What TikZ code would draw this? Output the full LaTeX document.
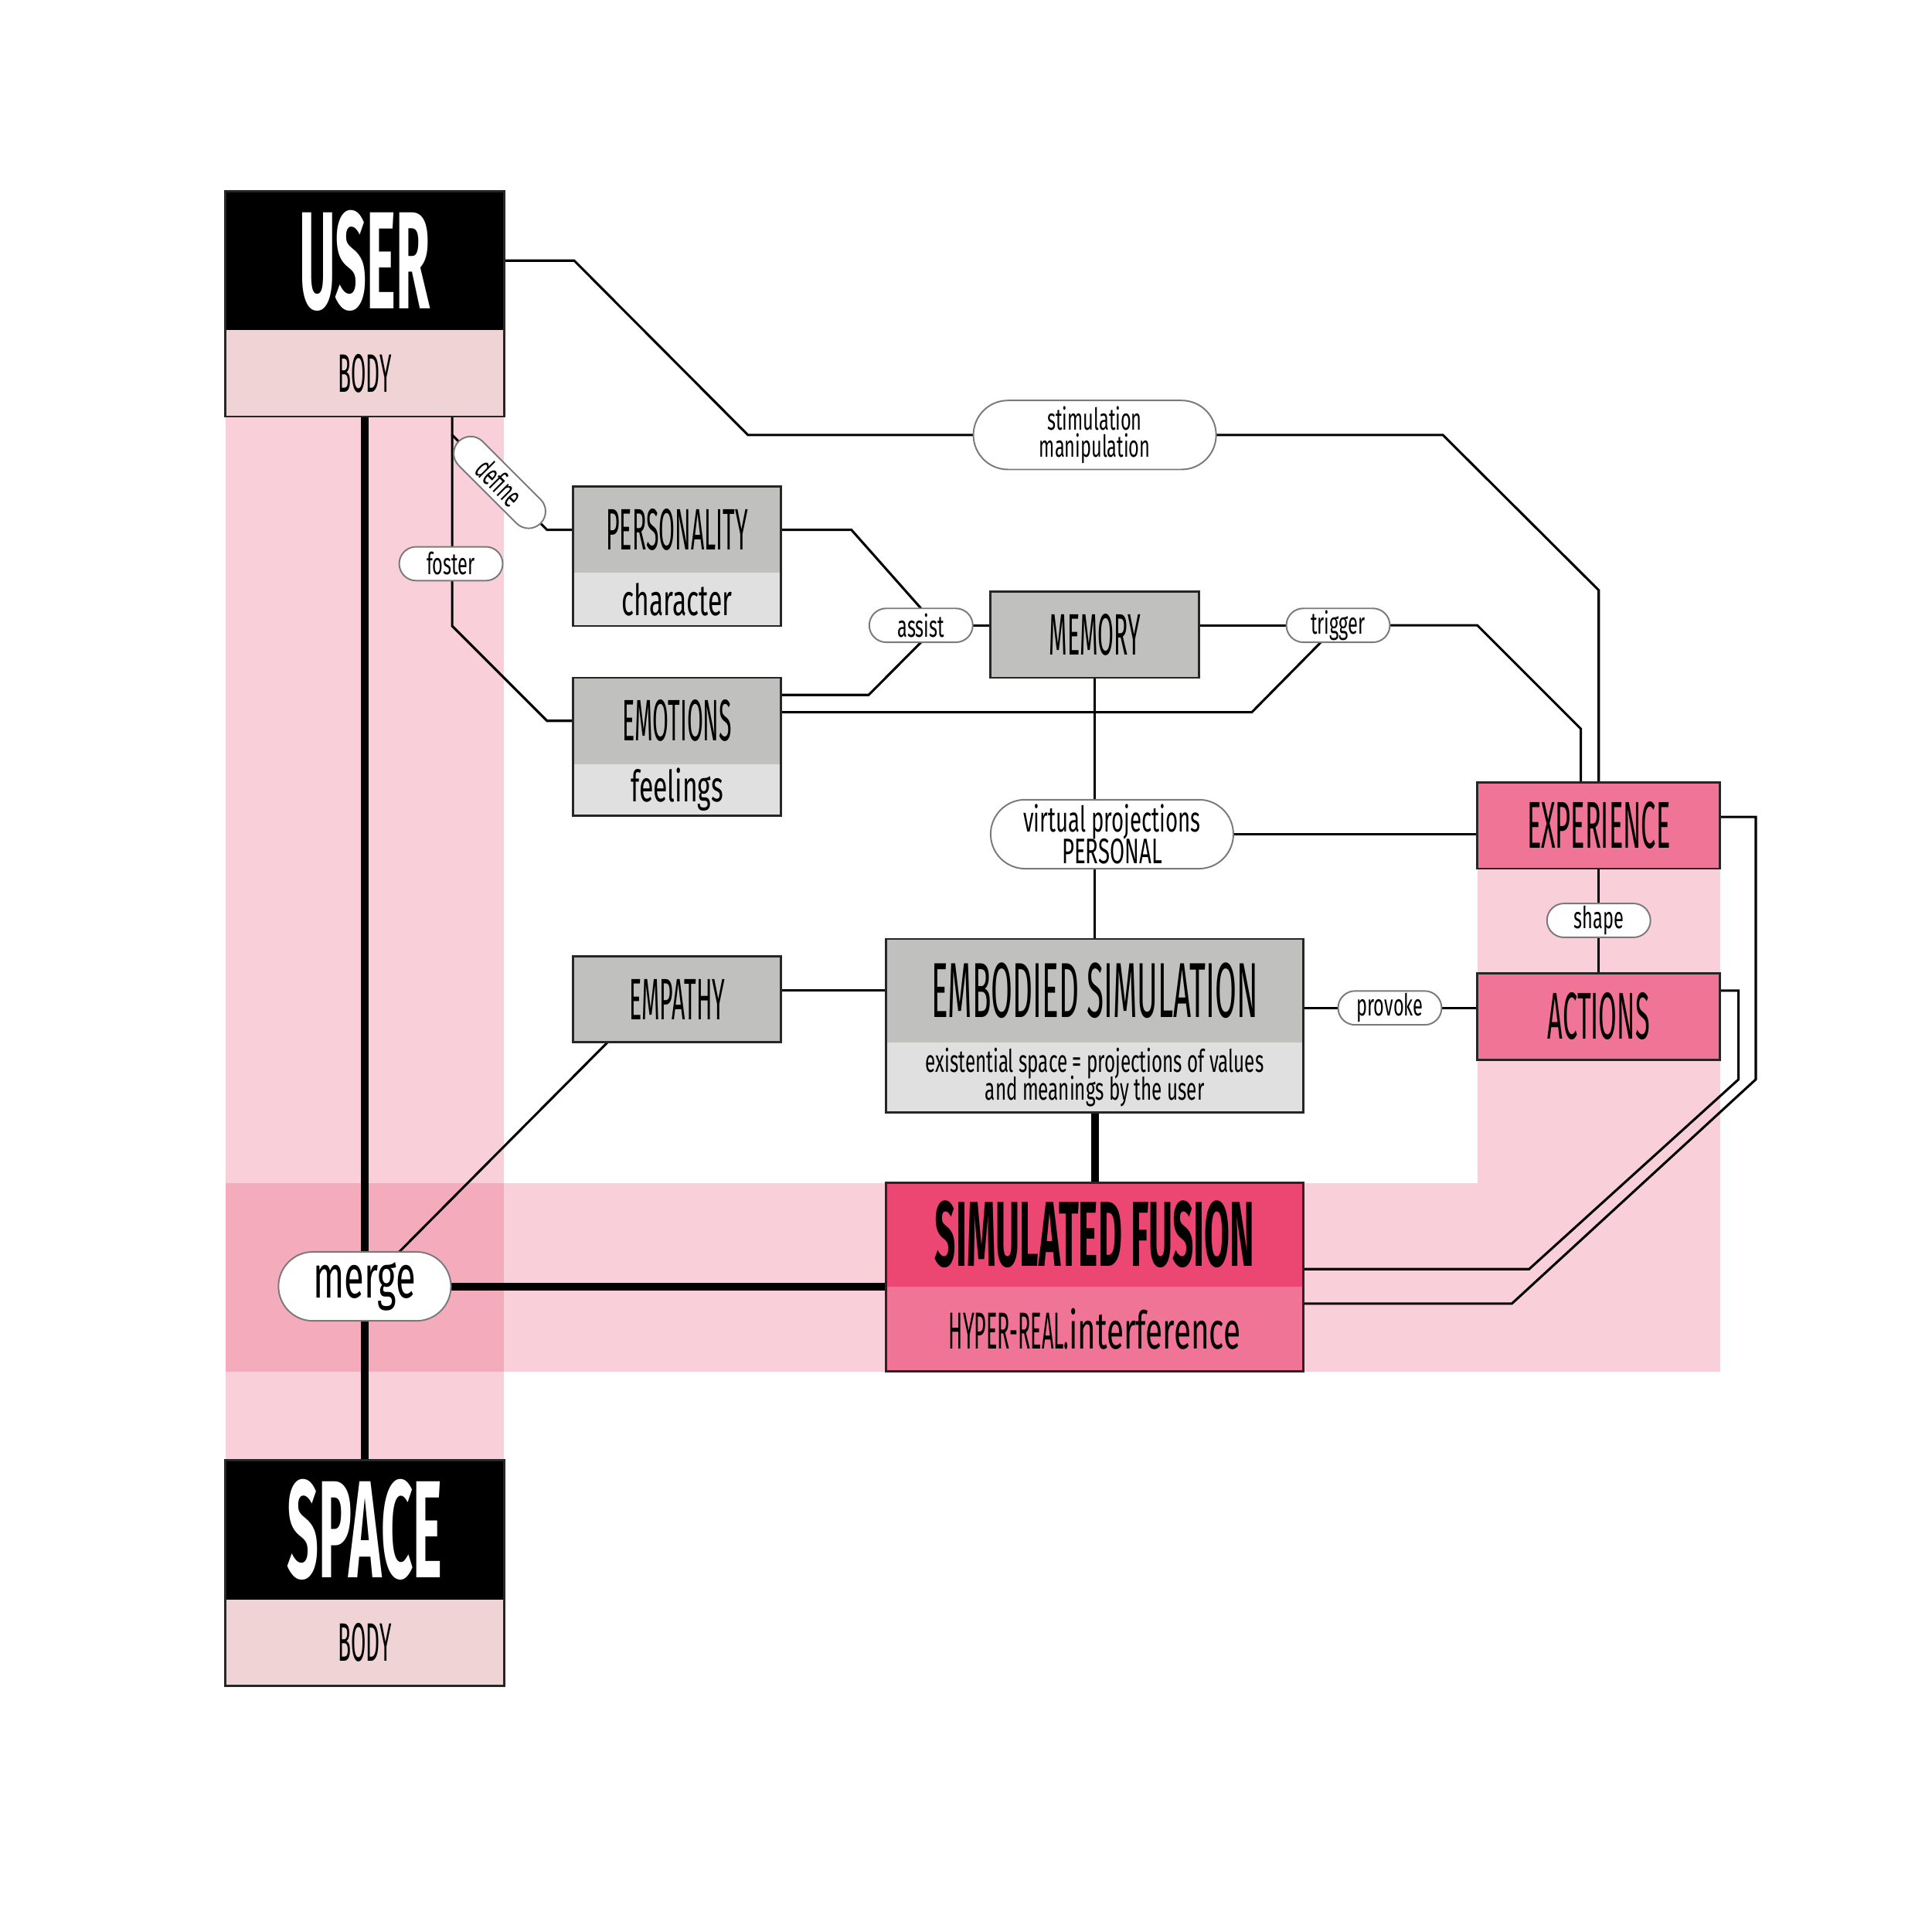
\documentclass[tikz,border=0pt]{standalone}
\usepackage{fontspec}
\usepackage{tikz}
\usetikzlibrary{positioning, calc, backgrounds, shapes.misc}
\newfontfamily\capsfont[FakeStretch=0.4]{Fira Sans}
\newfontfamily\lowfont[FakeStretch=0.6]{Fira Sans}
\newcommand{\fsz}[1]{\fontsize{#1}{#1}\selectfont}
\newcommand{\tightlines}{\lineskip=0pt\lineskiplimit=-10pt}
\definecolor{bodypink}{HTML}{EFD3D5}
\definecolor{headgray}{HTML}{C0C0BE}
\definecolor{subgray}{HTML}{E0E0E0}
\definecolor{fusionred}{HTML}{EC4672}
\definecolor{rosefill}{HTML}{F07496}
\definecolor{bandpink}{HTML}{E32351}
\definecolor{pillline}{HTML}{7A7A7A}

\tikzset{
  box/.style={inner sep=0pt, outer sep=0pt, align=center},
  userbox/.style={box, fill=black, text=white, minimum width=22.6mm, minimum height=11.3mm, font=\capsfont\bfseries\fsz{32}},
  bodybox/.style={box, fill=bodypink, minimum width=22.6mm, minimum height=7mm, font=\capsfont\fsz{12.5}},
  headbox/.style={box, fill=headgray, minimum width=16.9mm, minimum height=7mm, font=\capsfont\fsz{13.5}},
  subbox/.style={box, fill=subgray, minimum width=16.9mm, font=\lowfont\fsz{10}},
  rosebox/.style={box, fill=rosefill, draw=black!85, line width=0.5pt, minimum width=19.7mm, minimum height=7mm, font=\capsfont\fsz{15.3}},
  pill/.style={rounded rectangle, draw=pillline, line width=0.35pt, fill=white, inner sep=0pt, outer sep=0pt,
    minimum width=8.4mm, minimum height=2.75mm, font=\lowfont\fsz{7}, align=center},
  frame/.style={draw=black!85, line width=0.5pt},
  link/.style={line width=0.55pt},
  thicklink/.style={line width=1.8pt},
  band/.style={fill=bandpink, fill opacity=0.21}
}

\begin{document}
\begin{tikzpicture}[x=0.1mm, y=-0.1mm]
  \useasboundingbox (0,0) rectangle (1568,1568);

  % user and space
  \node[userbox] (user) at (296,211.5) {USER};
  \node[bodybox, below=0pt of user] (ubody) {BODY};
  \node[userbox] (space) at (296,1241.5) {SPACE};
  \node[bodybox, below=0pt of space] (sbody) {BODY};

  % grey blocks
  \node[headbox] (pers) at (549.5,430) {PERSONALITY};
  \node[subbox, minimum height=4.3mm, below=0pt of pers] (persb) {character};
  \node[headbox] (emot) at (549.5,585) {EMOTIONS};
  \node[subbox, minimum height=4.2mm, below=0pt of emot] (emotb) {feelings};
  \node[headbox, frame] (empa) at (549.5,811) {EMPATHY};
  \node[headbox, frame] (memo) at (888.5,515) {MEMORY};
  \node[headbox, minimum width=33.9mm, minimum height=8.4mm, font=\capsfont\fsz{18}] (embo) at (888.5,804) {EMBODIED SIMULATION};
  \node[subbox, minimum width=33.9mm, minimum height=5.7mm, font=\lowfont\fontsize{7.2}{6.4}\selectfont\tightlines, below=0pt of embo] (embob)
    {existential space = projections of values\\and meanings by the user};

  % pink blocks
  \node[box, fill=fusionred, minimum width=33.9mm, minimum height=8.4mm, font=\capsfont\bfseries\fsz{21.3}] (fush) at (888.5,1002) {SIMULATED FUSION};
  \node[box, fill=rosefill, minimum width=33.9mm, minimum height=6.9mm, font=\capsfont\fsz{12}, below=0pt of fush] (fusb) {HYPER-REAL.{\lowfont interference}};
  \node[rosebox] (expe) at (1297.5,670) {EXPERIENCE};
  \node[rosebox] (acti) at (1297.5,825) {ACTIONS};

  \foreach \a/\b in {user/ubody, space/sbody, pers/persb, emot/emotb, embo/embob, fush/fusb}
    \draw[frame] (\a.north west) rectangle (\b.south east);

  % labels
  \node[pill, minimum width=19.7mm, minimum height=5.6mm, font=\lowfont\fontsize{7}{6.2}\selectfont\tightlines] (stim) at (888.5,353) {stimulation\\manipulation};
  \node[pill, rotate=-45, minimum width=9.4mm] (defi) at (405.5,391.5) {define};
  \node[pill] (fost) at (366,457.5) {foster};
  \node[pill] (assi) at (747.5,507.5) {assist};
  \node[pill] (trig) at (1086,507.5) {trigger};
  \node[pill, minimum width=19.7mm, minimum height=5.6mm, font=\lowfont\fontsize{8.2}{7.3}\selectfont\tightlines] (virt) at (902.5,677) {virtual projections\\PERSONAL};
  \node[pill] (shap) at (1297.5,747) {shape};
  \node[pill] (prov) at (1128,818) {provoke};
  \node[pill, minimum width=14mm, minimum height=5.6mm, font=\lowfont\fsz{14}] (merg) at (296,1044) {merge};

  \begin{scope}[on background layer]
    \fill[white] (0,0) rectangle (1568,1568);
    \fill[band] (ubody.south west) rectangle (space.north east);
    \fill[band] (ubody.south west |- fush.north) rectangle (acti.east |- fusb.south);
    \fill[band] (expe.south west) rectangle (acti.east |- fush.north);

    \draw[link] (user.east) -- ++(57,0) -- ($(stim.west)+(-183,0)$) -- (stim.west);
    \draw[link] (stim.east) -- ++(184,0) -- ++(126.5,126) -- (expe.north);
    \draw[link] (trig.east) -- (trig.east -| expe.west) -- ++(84,84) -- ($(expe.north west)+(84,0)$);
    \draw[link] (trig.west) -- (trig.west -| memo.east);
    \draw[link] (assi.east) -- (assi.east -| memo.west);
    \draw[link] (pers.east) -- ++(57,0) -- (assi.north);
    \draw[link] ($(emot.east)+(0,-21)$) -- ++(71,0) -- (assi.south);
    \draw[link] ($(emot.east)+(0,-7)$) -- ++(382,0) -- ($(trig.south)+(-14,0)$);

    \coordinate (fork) at ($(ubody.south)+(71,15)$);
    \draw[link] ($(ubody.south)+(71,0)$) -- (fork) -- ++(77,77) -- (pers.west);
    \draw[link] (fork) -- ++(0,155) -- ++(77,77) -- (emot.west);
    \draw[thicklink] (ubody.south) -- (space.north);

    \draw[link] (memo.south) -- (memo.south |- virt.north);
    \draw[link] (memo.south |- virt.south) -- (embo.north);
    \draw[link] (virt.east) -- (virt.east -| expe.west);
    \draw[link] (embo.west) -- (embo.west -| empa.east);
    \draw[link] (embo.east |- prov.west) -- (prov.west);
    \draw[link] (prov.east) -- (prov.east -| acti.west);
    \draw[link] (expe.south) -- (shap.north);
    \draw[link] (shap.south) -- (acti.north);

    \draw[thicklink] (embob.south) -- (fush.north);
    \draw[thicklink] (merg.east) -- (merg.east -| fush.west);
    \draw[link] ($(empa.south west)+(28,0)$) -- ($(merg.north)+(28,0)$);
    \draw[link] ($(acti.north east)+(0,14)$) -- ++(15,0) -- ++(0,72) -- ++(-170,154) -- ($(fush.south east)+(0,-14)$);
    \draw[link] ($(expe.north east)+(0,28)$) -- ++(29,0) -- ++(0,213) -- ++(-198,182) -- ($(fush.south east)+(0,14)$);
  \end{scope}
\end{tikzpicture}
\end{document}
